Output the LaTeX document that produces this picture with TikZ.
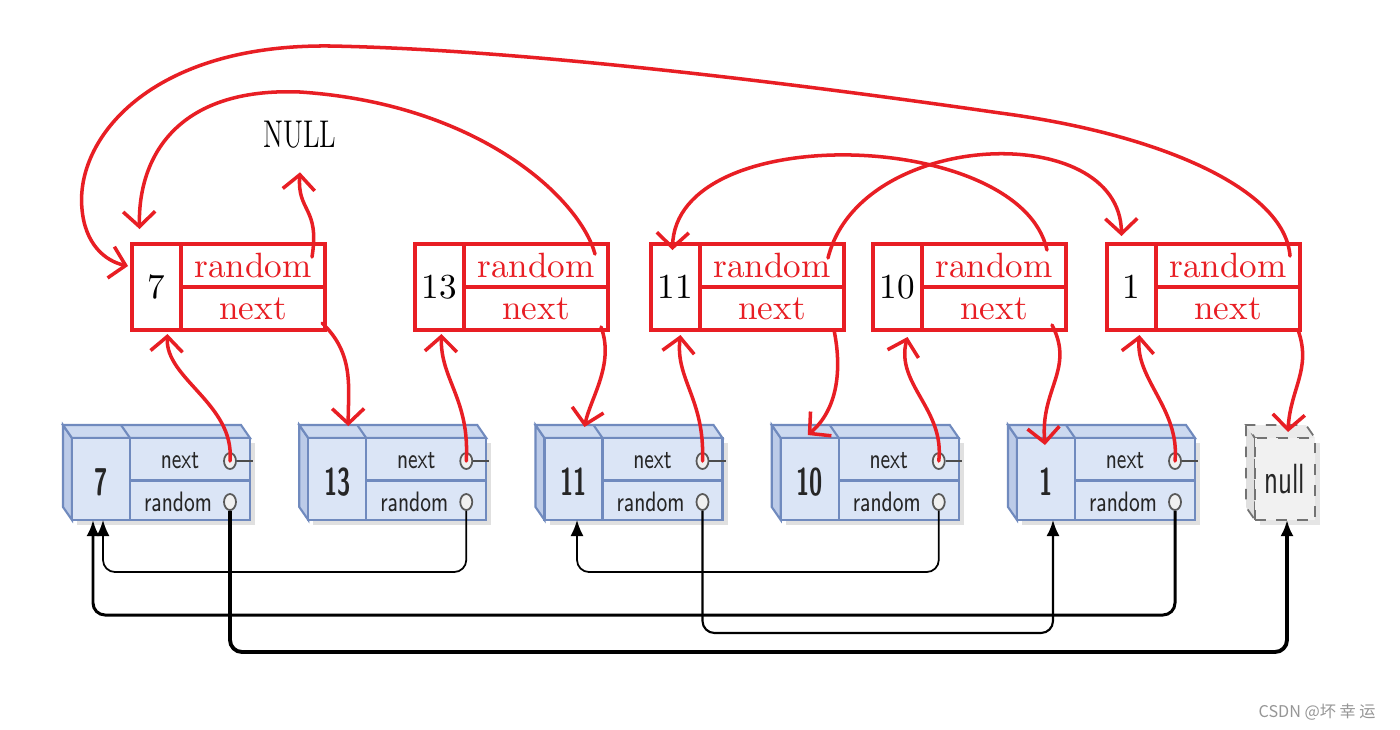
\documentclass[tikz,border=0pt]{standalone}
\usepackage{fontspec}
\usepackage{graphicx}
\usepackage{tikz}
\usetikzlibrary{positioning,arrows.meta,shapes.geometric}
\usepackage{xcolor}
\newfontfamily\cjkfont{Noto Sans CJK SC}
\definecolor{penred}{RGB}{232,30,36}
\definecolor{cellblue}{RGB}{219,229,246}
\definecolor{topblue}{RGB}{204,217,240}
\definecolor{sideblue}{RGB}{188,203,232}
\definecolor{edgeblue}{RGB}{112,138,190}
\definecolor{nullgray}{RGB}{241,241,241}
\definecolor{markgray}{RGB}{150,150,150}
\newcommand{\narrowtxt}[2][0.72]{\scalebox{#1}[1]{#2}}

\begin{document}
\begin{tikzpicture}[
    redcell/.style={draw=penred,line width=1.2pt,outer sep=0pt,inner sep=0pt,
      font=\fontsize{10}{12}\selectfont},
    valcell/.style={redcell,minimum width=0.49cm,minimum height=0.86cm},
    fldcell/.style={redcell,text=penred,minimum width=1.44cm,minimum height=0.43cm},
    pen/.style={penred,line width=1pt,line cap=round,
      -{Straight Barb[length=1.5mm,width=3.2mm]}},
    face/.style={draw=edgeblue,line width=0.6pt,fill=cellblue,
      minimum width=1.78cm,minimum height=0.82cm,inner sep=0pt,outer sep=0pt},
    bxline/.style={edgeblue,line width=0.6pt},
    bxlbl/.style={inner sep=0pt,text=black!85,font=\sffamily\fontsize{8}{10}\selectfont},
    bxnum/.style={inner sep=0pt,text=black!85,font=\sffamily\bfseries\fontsize{11}{13}\selectfont},
    ptr/.style={ellipse,draw=black!65,fill=black!6,line width=0.5pt,
      minimum width=0.12cm,minimum height=0.16cm,inner sep=0pt},
    nulbox/.style={draw=black!55,dashed,fill=nullgray,line width=0.5pt,
      minimum width=0.60cm,minimum height=0.82cm,inner sep=0pt,outer sep=0pt,
      text=black!85,font=\sffamily\fontsize{12}{14}\selectfont},
    link/.style={black,rounded corners=0.12cm,-{Latex[length=1.6mm,width=1.3mm]}}
  ]
  \fill[white] (0,0) rectangle (14,7.29);
  \useasboundingbox (0,0) rectangle (14,7.29);

  \foreach \v [count=\i] in {7,13,11,10,1}{
    \pgfmathsetmacro\x{0.72+2.3625*(\i-1)}
    \fill[black!12] (\x+0.05,2.04) rectangle (\x+1.83,2.86);
    \filldraw[bxline,fill=sideblue] (\x,2.91) -- (\x,2.09) -- (\x-0.09,2.22)
      -- (\x-0.09,3.04) -- cycle;
    \filldraw[bxline,fill=topblue] (\x,2.91) -- (\x+1.78,2.91) -- (\x+1.69,3.04)
      -- (\x-0.09,3.04) -- cycle;
    \draw[bxline] (\x+0.58,2.91) -- (\x+0.49,3.04);
    \node[face] (bx\i) at (\x+0.89,2.50) {};
    \draw[bxline] (\x+0.58,2.91) -- (\x+0.58,2.09);
    \draw[bxline,line width=1pt] (\x+0.58,2.485) -- (\x+1.78,2.485);
    \node[bxnum] (bv\i) at (\x+0.29,2.47) {\narrowtxt[0.62]{\v}};
    \node[bxlbl] (bn\i) at (\x+1.08,2.68) {\narrowtxt{next}};
    \node[bxlbl] (br\i) at (\x+1.06,2.27) {\narrowtxt{random}};
    \node[ptr] (nc\i) at (\x+1.58,2.68) {};
    \node[ptr] (rc\i) at (\x+1.58,2.27) {};
    \draw[black!70,line width=0.5pt] (nc\i.east) -- (\x+1.81,2.68);
    \coordinate (bk\i) at (\x-0.09,3.04);
  }

  \fill[black!10] (12.60,2.04) rectangle (13.20,2.86);
  \filldraw[draw=black!55,dashed,line width=0.5pt,fill=black!12]
    (12.55,2.91) -- (12.55,2.09) -- (12.46,2.22) -- (12.46,3.04) -- cycle;
  \filldraw[draw=black!55,dashed,line width=0.5pt,fill=black!8]
    (12.55,2.91) -- (13.15,2.91) -- (13.06,3.04) -- (12.46,3.04) -- cycle;
  \node[nulbox] (nul) at (12.85,2.50) {\narrowtxt[0.66]{null}};

  \coordinate (in1a) at ([xshift=0.21cm]bx1.south west);
  \coordinate (in1b) at ([xshift=0.31cm]bx1.south west);
  \coordinate (in3) at ([xshift=0.325cm]bx3.south west);
  \coordinate (in5) at ([xshift=0.36cm]bx5.south west);
  \coordinate (innul) at ([xshift=0.32cm]nul.south west);
  \coordinate (lvA) at (0,1.57);
  \coordinate (lvB) at (0,1.14);
  \coordinate (lvC) at (0,0.96);
  \coordinate (lvD) at (0,0.77);

  \draw[link,line width=0.5pt] (rc2.south) |- (in1b |- lvA) -- (in1b);
  \draw[link,line width=0.5pt] (rc4.south) |- (in3 |- lvA) -- (in3);
  \draw[link,line width=0.85pt] (rc5.south) |- (in1a |- lvB) -- (in1a);
  \draw[link,line width=0.6pt] (rc3.south) |- (in5 |- lvC) -- (in5);
  \draw[link,line width=1.1pt] (rc1.south) |- (innul |- lvD) -- (innul);

  \foreach \v/\x [count=\i] in {7/1.32,13/4.15,11/6.51,10/8.73,1/11.07}{
    \node[valcell,anchor=north west] (rv\i) at (\x,4.85) {\v};
    \node[fldcell,anchor=north west] (rr\i) at (rv\i.north east) {random};
    \node[fldcell,below=0pt of rr\i] (rn\i) {next};
  }
  \node[inner sep=0pt,font=\fontsize{11}{13}\selectfont] (nulltxt) at (3.00,5.94)
    {\narrowtxt[0.7]{NULL}};

  \draw[pen] ([xshift=-0.13cm,yshift=-0.13cm]rr1.north east)
    .. controls +(0.08,0.5) and +(-0.03,-0.4) .. ([yshift=-0.23cm]nulltxt.south);
  \draw[pen] ([xshift=-0.13cm,yshift=-0.1cm]rr2.north east)
    .. controls (5.8,5.3) and (4.8,6.25) .. (3.0,6.37)
    .. controls (1.75,6.42) and (1.38,5.7) .. ([xshift=-0.17cm,yshift=0.15cm]rv1.north);
  \draw[pen] ([xshift=-0.1cm,yshift=-0.12cm]rr5.north east)
    .. controls (12.85,5.4) and (11.6,5.95) .. (10.0,6.16)
    .. controls (7.5,6.52) and (5.0,6.8) .. (3.3,6.83)
    .. controls (1.5,6.85) and (0.75,5.9) .. (0.82,5.2)
    .. controls (0.85,4.85) and (1.05,4.68) .. ([xshift=-0.04cm,yshift=0.21cm]rv1.west);
  \draw[pen] ([xshift=-0.16cm,yshift=-0.14cm]rr3.north east)
    .. controls (8.6,6.0) and (11.2,6.1) .. ([xshift=-0.1cm,yshift=0.08cm]rv5.north);
  \draw[pen] ([xshift=-0.19cm,yshift=-0.06cm]rr4.north east)
    .. controls (10.2,6.0) and (6.75,6.1) .. ([xshift=-0.03cm,yshift=-0.06cm]rv3.north);

  \draw[pen] ([xshift=-0.03cm,yshift=0.07cm]rn1.south east)
    .. controls (3.55,3.75) and (3.48,3.4) .. ([xshift=0.49cm,yshift=-0.01cm]bk2);
  \draw[pen] ([xshift=-0.07cm,yshift=0.03cm]rn2.south east)
    .. controls (6.15,3.65) and (5.9,3.3) .. ([xshift=0.49cm,yshift=-0.02cm]bk3);
  \draw[pen] ([xshift=-0.1cm]rn3.south east)
    .. controls (8.42,3.6) and (8.38,3.2) .. ([xshift=0.36cm,yshift=-0.1cm]bk4);
  \draw[pen] ([xshift=-0.14cm,yshift=0.05cm]rn4.south east)
    .. controls (10.75,3.6) and (10.4,3.4) .. ([xshift=0.37cm,yshift=-0.2cm]bk5);
  \draw[pen] ([xshift=-0.02cm]rn5.south east)
    .. controls (13.12,3.6) and (12.9,3.4) .. ([xshift=0.03cm,yshift=0.06cm]nul.north);

  \draw[pen] (nc1.center) .. controls (2.35,3.25) and (1.65,3.5)
    .. ([xshift=0.11cm,yshift=-0.04cm]rv1.south);
  \draw[pen] (nc2.center) .. controls (4.7,3.3) and (4.4,3.5)
    .. ([xshift=0.02cm,yshift=-0.04cm]rv2.south);
  \draw[pen] (nc3.center) .. controls (7.05,3.3) and (6.75,3.5)
    .. ([xshift=0.05cm,yshift=-0.05cm]rv3.south);
  \draw[pen] (nc4.center) .. controls (9.45,3.2) and (8.95,3.45)
    .. ([xshift=0.1cm,yshift=-0.07cm]rv4.south);
  \draw[pen] (nc5.center) .. controls (11.8,3.2) and (11.35,3.5)
    .. ([xshift=0.08cm,yshift=-0.05cm]rv5.south);

  \node[text=markgray,font=\cjkfont\fontsize{4.6}{6}\selectfont,anchor=east]
    (mark) at (13.88,0.17) {CSDN @坏 幸 运};
\end{tikzpicture}
\end{document}
